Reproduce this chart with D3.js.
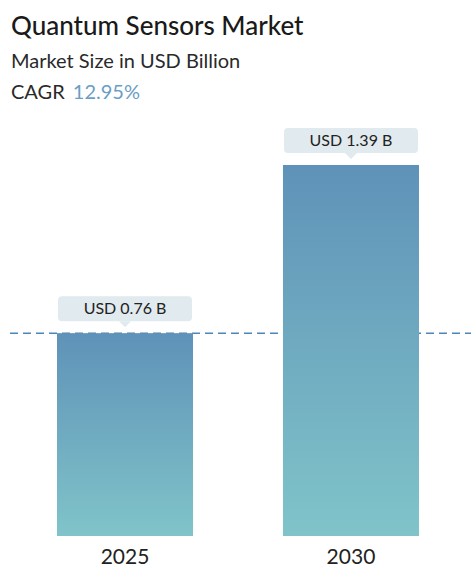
<!DOCTYPE html>
<html>
<head>
<meta charset="utf-8">
<script src="https://cdn.jsdelivr.net/npm/d3@7"></script>
<style>
  body { margin: 0; background: #fff; }
  text { font-family: Lato, "Noto Sans", sans-serif; }
</style>
</head>
<body>
<div class="container"></div>
<script>
var years = ['2025', '2030'];
var values = [0.76, 1.39];
var valueLabels = ['USD 0.76 B', 'USD 1.39 B'];
var title = 'Quantum Sensors Market';
var subtitle = 'Market Size in USD Billion';
var cagr = '12.95%';

const WIDTH = 471;
const HEIGHT = 582;
const BASE_Y = 536;
const TOP_Y = 165;

var svg = d3.select('.container').append('svg')
    .attr('width', WIDTH)
    .attr('height', HEIGHT);

var defs = svg.append('defs');
var grad = defs.append('linearGradient')
    .attr('id', 'barGrad')
    .attr('x1', 0).attr('y1', 0).attr('x2', 0).attr('y2', 1);
grad.append('stop').attr('offset', '0%').attr('stop-color', '#5f92b8');
grad.append('stop').attr('offset', '100%').attr('stop-color', '#80c4c9');

// header
svg.append('text')
    .attr('x', 11).attr('y', 35)
    .attr('font-size', 26).attr('font-weight', 500)
    .attr('fill', '#1a1a1a')
    .text(title);

svg.append('text')
    .attr('x', 11).attr('y', 68)
    .attr('font-size', 20)
    .attr('fill', '#2a2a2a')
    .text(subtitle);

var cagrText = svg.append('text')
    .attr('x', 11).attr('y', 99)
    .attr('font-size', 20)
    .attr('fill', '#2a2a2a');
cagrText.append('tspan').text('CAGR ');
cagrText.append('tspan').attr('dx', 3).attr('fill', '#6a9ec4').text(cagr);

var xScale = d3.scaleBand()
    .domain(years)
    .range([57, 419])
    .paddingInner(0.398)
    .paddingOuter(0);

var yScale = d3.scaleLinear()
    .domain([0, values[1]])
    .range([BASE_Y, TOP_Y]);

// reference dashed line at first bar value
svg.append('line')
    .attr('x1', 10).attr('x2', WIDTH)
    .attr('y1', yScale(values[0])).attr('y2', yScale(values[0]))
    .attr('stroke', '#4f86b8')
    .attr('stroke-width', 1.5)
    .attr('stroke-dasharray', '8,5');

var data = years.map(function (y, i) {
    return { year: y, value: values[i], label: valueLabels[i] };
});

svg.selectAll('rect.bar')
    .data(data)
    .enter().append('rect')
    .attr('class', 'bar')
    .attr('x', function (d) { return xScale(d.year); })
    .attr('y', function (d) { return yScale(d.value); })
    .attr('width', xScale.bandwidth())
    .attr('height', function (d) { return BASE_Y - yScale(d.value); })
    .attr('fill', 'url(#barGrad)');

// value callouts
var callout = svg.selectAll('g.callout')
    .data(data)
    .enter().append('g')
    .attr('class', 'callout')
    .attr('transform', function (d) {
        return 'translate(' + (xScale(d.year) + xScale.bandwidth() / 2) + ',' + (yScale(d.value) - 12) + ')';
    });

callout.append('rect')
    .attr('x', -67).attr('y', -25)
    .attr('width', 134).attr('height', 25)
    .attr('rx', 4)
    .attr('fill', '#e1eaee');

callout.append('path')
    .attr('d', 'M-6,0 L0,6 L6,0 Z')
    .attr('fill', '#e1eaee');

callout.append('text')
    .attr('x', 0).attr('y', -7)
    .attr('text-anchor', 'middle')
    .attr('font-size', 16)
    .attr('fill', '#222')
    .text(function (d) { return d.label; });

// year labels
svg.selectAll('text.year')
    .data(data)
    .enter().append('text')
    .attr('class', 'year')
    .attr('x', function (d) { return xScale(d.year) + xScale.bandwidth() / 2; })
    .attr('y', 564)
    .attr('text-anchor', 'middle')
    .attr('font-size', 21)
    .attr('fill', '#222')
    .text(function (d) { return d.year; });
</script>
</body>
</html>
